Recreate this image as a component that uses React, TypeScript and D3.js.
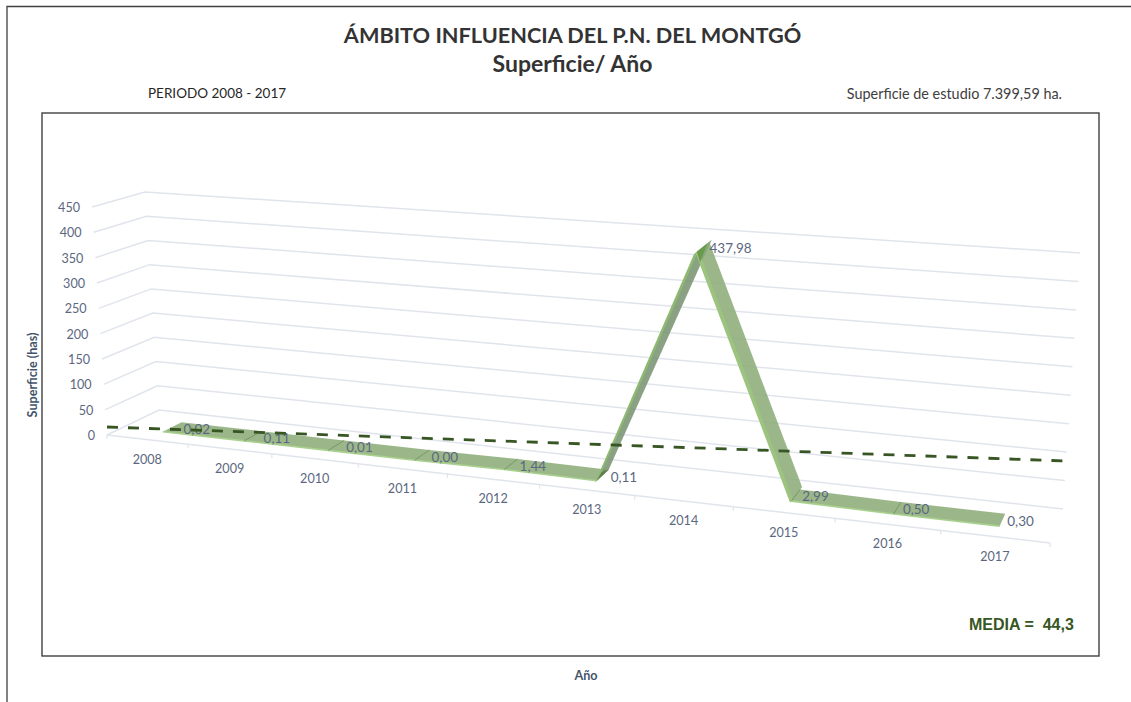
import React from "react";
import * as d3 from "d3";

const years = ["2008","2009","2010","2011","2012","2013","2014","2015","2016","2017"];
const values = [0.02,0.11,0.01,0,1.44,0.11,437.98,2.99,0.5,0.3];
const valueLabels = ["0,02","0,11","0,01","0,00","1,44","0,11","437,98","2,99","0,50","0,30"];
const levels = [0,50,100,150,200,250,300,350,400,450];

const W = 1131, H = 702;
const FONT = "Lato, 'Open Sans', sans-serif";
const AXIS = "#5b6780";
const GRID = "#e0e4ec";
const DARK = "#375623";

const band = d3.scaleBand<string>().domain(years).range([0,1]);
const warp = (u:number)=>u/(u+1.18*(1-u));
const lev = (a:number,b:number)=>d3.scaleLinear().domain([0,450]).range([a,b]);
const flx = lev(107,92), fly = lev(435,207);
const blx = lev(159,145), bly = lev(410,192);
const brx = lev(1063,1080), bry = lev(509,253);
const frx = lev(1050,1067), fry = lev(543,281);

const P = (u:number,d:number,v:number):[number,number]=>{
  const w = warp(u);
  const fx = flx(v)+(frx(v)-flx(v))*w, fy = fly(v)+(fry(v)-fly(v))*w;
  const bx = blx(v)+(brx(v)-blx(v))*w, by = bly(v)+(bry(v)-bly(v))*w;
  return [fx+(bx-fx)*d, fy+(by-fy)*d];
};
const D0 = 0.31, D1 = 0.68;
const uc = (y:string)=>(band(y) as number)+band.bandwidth()/2;
const line = d3.line();
const poly = (pts:[number,number][])=>line(pts)+"Z";
const ticksU = d3.range(0,years.length+1).map(i=>i/years.length);
const meanX = d3.scaleLinear().domain([0,1]).range([107,1066]);
const meanY = d3.scaleLinear().domain([0,1]).range([427,461]);

export default function App(){
  const segs = years.slice(0,-1).map((y,i)=>{
    const u0=uc(y),u1=uc(years[i+1]),v0=values[i],v1=values[i+1];
    return {i,u0,u1,v0,v1,steep:Math.abs(v1-v0)>100,rising:v1-v0>100};
  });
  return (
    <svg width={W} height={H} style={{position:"absolute",left:0,top:0,background:"#fff"}} fontFamily={FONT}>
      <path d="M7 702V6.5H1131" fill="none" stroke="#404040" strokeWidth={1.3}/>
      <rect x={42} y={113} width={1057} height={543} fill="#fff" stroke="#404040" strokeWidth={1.4}/>
      <text x={572.5} y={43} textAnchor="middle" fontSize={21.7} fontWeight={700} fill="#333333">ÁMBITO INFLUENCIA DEL P.N. DEL MONTGÓ</text>
      <text x={572.5} y={72} textAnchor="middle" fontSize={23} fontWeight={700} fill="#333333">Superficie/ Año</text>
      <text x={148} y={98} fontSize={13.5} fill="#262626">PERIODO 2008 - 2017</text>
      <text x={1062} y={99} textAnchor="end" fontSize={14.4} fill="#404040">Superficie de estudio 7.399,59 ha.</text>

      {levels.map(v=>(
        <polyline key={v} fill="none" stroke={GRID} strokeWidth={1.5}
          points={[[flx(v),fly(v)],[blx(v),bly(v)],[brx(v),bry(v)]].join(" ")}/>
      ))}
      <line x1={P(0,0,0)[0]} y1={P(0,0,0)[1]} x2={P(1,0,0)[0]} y2={P(1,0,0)[1]} stroke={GRID} strokeWidth={1.5}/>
      {ticksU.map(u=>{const p=P(u,0,0);return <line key={u} x1={p[0]} y1={p[1]} x2={p[0]} y2={p[1]+4} stroke={GRID} strokeWidth={1.2}/>;})}
      {levels.map(v=>(
        <text key={v} x={flx(v)-12} y={fly(v)+5} textAnchor="end" fontSize={12.6} fill={AXIS}>{v}</text>
      ))}
      {years.map(y=>{const p=P(uc(y),0,0);return <text key={y} x={p[0]} y={p[1]+24} textAnchor="middle" fontSize={12.6} fill={AXIS}>{y}</text>;})}

      {segs.map(s=>{
        const b0 = s.steep&&!s.rising ? D1+0.06 : D1;
        const b1 = s.rising ? D1+0.15 : s.steep ? D1+0.08 : D1;
        return <path key={s.i} d={poly([P(s.u0,D0,s.v0),P(s.u0,b0,s.v0),P(s.u1,b1,s.v1),P(s.u1,D0,s.v1)])}
          fill={s.rising?"#76906f":"#8aaa76"} fillOpacity={0.85}/>;
      })}
      {segs.map(s=>s.steep?(
        <path key={s.i} d={poly([P(s.u0,D0-0.05,s.v0),P(s.u0,D0+0.06,s.v0),P(s.u1,D0+0.06,s.v1),P(s.u1,s.rising?D0-0.1:D0-0.05,s.v1)])}
          fill={s.rising?"#8dba70":"#9cc47f"}/>
      ):(
        <line key={s.i} x1={P(s.u0,D0,s.v0)[0]} y1={P(s.u0,D0,s.v0)[1]} x2={P(s.u1,D0,s.v1)[0]} y2={P(s.u1,D0,s.v1)[1]} stroke="#a9d18e" strokeWidth={1.6}/>
      ))}
      {years.map((y,i)=>(i>0&&i<years.length-1&&i!==5&&i!==6)?(
        <line key={y} x1={P(uc(y),D0,values[i])[0]} y1={P(uc(y),D0,values[i])[1]} x2={P(uc(y),D1,values[i])[0]} y2={P(uc(y),D1,values[i])[1]} stroke="#6f8f5c" strokeWidth={0.9}/>
      ):null)}
      <path d={poly([P(uc("2014"),D0,values[6]),P(uc("2014"),D1,values[6]),P(uc("2014"),D0+0.12,values[6]-25)])} fill="#6a9a4e"/>
      <path d={poly([P(uc("2013"),D0,values[5]),P(uc("2013"),D1,values[5]),P(uc("2013"),D0+0.15,values[5]+8)])} fill="#5f7f50"/>

      {years.map((y,i)=>{const p=P(uc(y),D1,values[i]);return(
        <text key={y} x={p[0]+2} y={p[1]+(i===6?10:12)} fontSize={13.5} fill={AXIS}>{valueLabels[i]}</text>
      );})}

      <line x1={meanX(0)} y1={meanY(0)} x2={meanX(1)} y2={meanY(1)} stroke={DARK} strokeWidth={2.8} strokeDasharray="11 10"/>

      <text x={969} y={630} fontFamily="'Liberation Sans', Arial, sans-serif" fontSize={16} fontWeight={700} fill={DARK} xmlSpace="preserve">MEDIA =  44,3</text>
      <text transform="translate(37,375) rotate(-90)" textAnchor="middle" fontSize={12.6} fontWeight={700} fill="#44546a">Superficie (has)</text>
      <text x={586} y={680} textAnchor="middle" fontSize={12.6} fontWeight={700} fill="#44546a">Año</text>
    </svg>
  );
}
